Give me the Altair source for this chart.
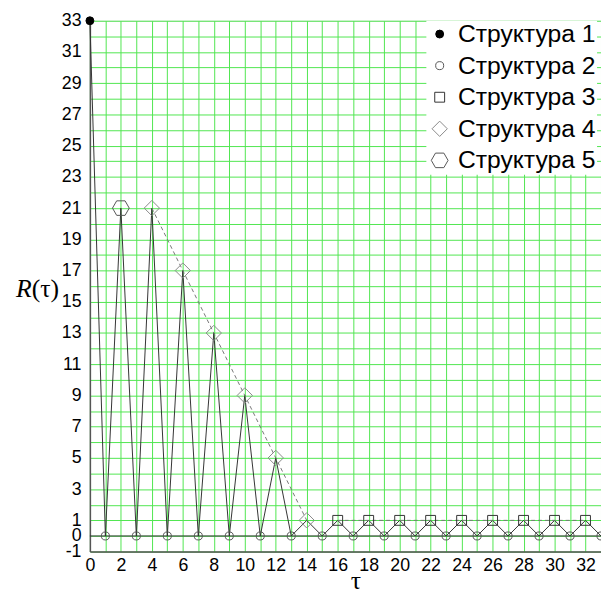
import json
import altair as alt
import pandas as pd

# ---- data ----
tau = [0, 1, 2, 3, 4, 5, 6, 7, 8, 9, 10, 11, 12, 13, 14, 15, 16,
       17, 18, 19, 20, 21, 22, 23, 24, 25, 26, 27, 28, 29, 30, 31, 32, 33]
R = [33, 0, 21, 0, 21, 0, 17, 0, 13, 0, 9, 0, 5, 0, 1, 0, 1,
     0, 1, 0, 1, 0, 1, 0, 1, 0, 1, 0, 1, 0, 1, 0, 1, 0]

series_names = ["Структура 1", "Структура 2", "Структура 3", "Структура 4", "Структура 5"]

s1_tau = [0]
s1_R = [33]
s2_tau = [1, 3, 5, 7, 9, 11, 13, 15, 17, 19, 21, 23, 25, 27, 29, 31, 33]
s2_R = [0, 0, 0, 0, 0, 0, 0, 0, 0, 0, 0, 0, 0, 0, 0, 0, 0]
s3_tau = [16, 18, 20, 22, 24, 26, 28, 30, 32]
s3_R = [1, 1, 1, 1, 1, 1, 1, 1, 1]
s4_tau = [4, 6, 8, 10, 12, 14]
s4_R = [21, 17, 13, 9, 5, 1]
s5_tau = [2]
s5_R = [21]
zero_level = [0]

x_tick_labels = [0, 2, 4, 6, 8, 10, 12, 14, 16, 18, 20, 22, 24, 26, 28, 30, 32]
y_tick_labels = [-1, 0, 1, 3, 5, 7, 9, 11, 13, 15, 17, 19, 21, 23, 25, 27, 29, 31, 33]
x_grid = list(range(0, 34))
y_grid = list(range(-1, 34))

# ---- tables ----
line_df = pd.DataFrame({"tau": tau, "R": R})
groups = [(s1_tau, s1_R), (s2_tau, s2_R), (s3_tau, s3_R), (s4_tau, s4_R), (s5_tau, s5_R)]
rows = []
for name, (ts, rs) in zip(series_names, groups):
    for t, r in zip(ts, rs):
        rows.append({"tau": t, "R": r, "series": name})
pts_df = pd.DataFrame(rows)
dash_df = pts_df[pts_df["series"].isin([series_names[2], series_names[3]])]
zero_df = pd.DataFrame({"R": zero_level})

GRID = "#4fe64f"
hexagon = "M-1,0L-0.5,-0.866L0.5,-0.866L1,0L0.5,0.866L-0.5,0.866Z"


def label_expr(vals):
    return f"indexof({json.dumps(vals)}, datum.value) >= 0 ? ('' + datum.value) : ''"


x_enc = alt.X(
    "tau:Q",
    scale=alt.Scale(domain=[0, 33], nice=False, zero=False),
    axis=alt.Axis(
        values=x_grid, labelExpr=label_expr(x_tick_labels), labelOverlap=False,
        grid=True, gridColor=GRID, gridWidth=1,
        ticks=False, labelFlush=False, labelPadding=5,
        labelFontSize=18, labelFont="Liberation Sans", labelColor="black",
        domainColor="#555", domainWidth=1.5,
        title="τ", titleFont="Liberation Serif", titleFontSize=26,
        titleFontWeight="normal", titleColor="black",
        titleX=269, titleY=16, titleBaseline="top",
    ),
)
y_enc = alt.Y(
    "R:Q",
    scale=alt.Scale(domain=[-1, 33], nice=False, zero=False),
    axis=alt.Axis(
        values=y_grid, labelExpr=label_expr(y_tick_labels), labelOverlap=False,
        grid=True, gridColor=GRID, gridWidth=1,
        ticks=False, labelFlush=False, labelPadding=9,
        labelFontSize=18, labelFont="Liberation Sans", labelColor="black",
        domainColor="#555", domainWidth=1.5,
        title=None,
    ),
)

zigzag = alt.Chart(line_df).mark_line(color="#333", strokeWidth=1).encode(x=x_enc, y=y_enc)

dashed = alt.Chart(dash_df).mark_line(
    color="#777", strokeWidth=1, strokeDash=[4, 3]
).encode(x=x_enc, y=y_enc, detail="series:N")

zero_rule = alt.Chart(zero_df).mark_rule(color="#333", strokeWidth=1).encode(y=y_enc)

legend = alt.Legend(
    title=None, orient="none", legendX=341, legendY=0,
    fillColor="white", padding=1, labelFontSize=25,
    labelFont="Liberation Sans", labelColor="black",
    labelOffset=6, rowPadding=6, labelLimit=300, symbolStrokeWidth=1,
)

points = alt.Chart(pts_df).mark_point(filled=True, strokeWidth=1, opacity=1).encode(
    x=x_enc,
    y=y_enc,
    shape=alt.Shape("series:N", sort=series_names,
                    scale=alt.Scale(type="ordinal", domain=series_names,
                                    range=["circle", "circle", "square", "diamond", hexagon]),
                    legend=legend),
    fill=alt.Fill("series:N", sort=series_names,
                  scale=alt.Scale(type="ordinal", domain=series_names,
                                  range=["black", "transparent", "transparent", "transparent", "transparent"]),
                  legend=legend),
    stroke=alt.Stroke("series:N", sort=series_names,
                      scale=alt.Scale(type="ordinal", domain=series_names,
                                      range=["black", "#555", "#333", "#888", "#555"]),
                      legend=legend),
    size=alt.Size("series:N", sort=series_names,
                  scale=alt.Scale(type="ordinal", domain=series_names,
                                  range=[64, 66, 100, 240, 289]),
                  legend=legend),
)

title_df = pd.DataFrame({"a": ["R"], "b": ["(τ)"]})
title_r = alt.Chart(title_df).mark_text(
    font="Liberation Serif", fontSize=26, fontStyle="italic", align="right",
    baseline="alphabetic", color="black"
).encode(x=alt.value(-59), y=alt.value(280), text="a:N")
title_tau = alt.Chart(title_df).mark_text(
    font="Liberation Serif", fontSize=26, align="left",
    baseline="alphabetic", color="black"
).encode(x=alt.value(-59), y=alt.value(280), text="b:N")

chart = alt.layer(zigzag, dashed, zero_rule, points, title_r, title_tau).properties(
    width=518, height=538,
    autosize=alt.AutoSizeParams(type="none"),
    padding={"left": 83, "top": 9, "right": 0, "bottom": 34},
).configure_view(stroke="#d0d0d0", strokeWidth=1.5).configure(background="white")

chart.save("out.html", embed_options={"renderer": "svg", "actions": False})
